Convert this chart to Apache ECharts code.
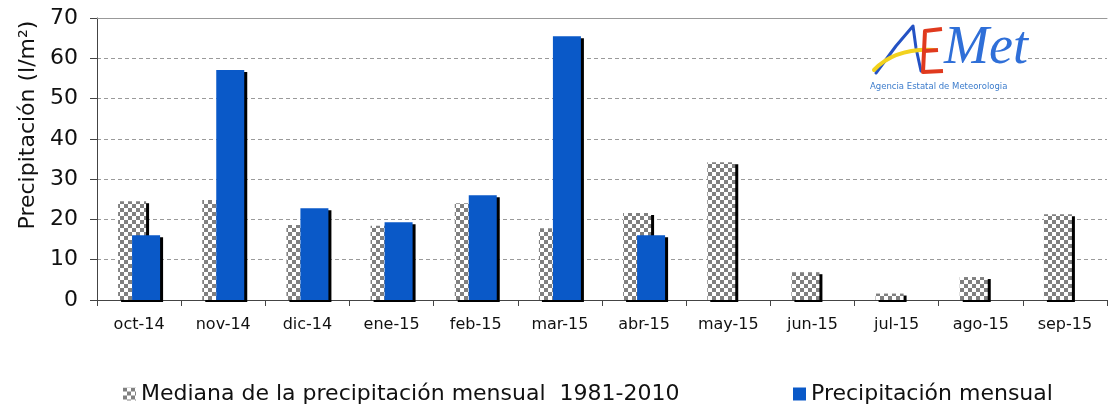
<!DOCTYPE html>
<html>
<head>
<meta charset="utf-8">
<script src="https://cdn.jsdelivr.net/npm/echarts@6/dist/echarts.min.js"></script>
<style>
  html, body { margin: 0; padding: 0; background: #fff; }
  #chart { width: 1109px; height: 406px; }
</style>
</head>
<body>
<div id="chart"></div>
<script>
// datos
const months = ['oct-14', 'nov-14', 'dic-14', 'ene-15', 'feb-15', 'mar-15', 'abr-15', 'may-15', 'jun-15', 'jul-15', 'ago-15', 'sep-15']
const medianValues = [24.5, 24.8, 18.6, 18.4, 24.0, 17.8, 21.6, 34.2, 6.9, 1.6, 5.7, 21.3]
const monthlyValues = [16.1, 57.1, 22.8, 19.3, 26.0, 65.5, 16.1, null, null, null, null, null]
const yTicks = [0, 10, 20, 30, 40, 50, 60, 70]

const medianName = 'Mediana de la precipitación mensual  1981-2010'
const monthlyName = 'Precipitación mensual'

// patrón ajedrezado
const makeChecker = () => {
  const c = document.createElement('canvas')
  c.width = 8
  c.height = 8
  const ctx = c.getContext('2d')
  ctx.fillStyle = '#ffffff'
  ctx.fillRect(0, 0, 8, 8)
  ctx.fillStyle = '#808080'
  ctx.fillRect(0, 0, 4, 4)
  ctx.fillRect(4, 4, 4, 4)
  return c
}
const checker = { image: makeChecker(), repeat: 'repeat' }

const chart = echarts.init(document.getElementById('chart'))
const font = '"DejaVu Sans", sans-serif'
const textColor = '#111'

const barShadow = {
  shadowColor: '#000',
  shadowBlur: 0,
  shadowOffsetX: 3,
  shadowOffsetY: 2
}

const option = {
  animation: false,
  textStyle: { fontFamily: font },
  grid: { left: 97, right: 2, top: 18, bottom: 106 },
  legend: [
    {
      data: [{ name: medianName, icon: 'rect' }],
      left: 118, top: 378,
      itemWidth: 13, itemHeight: 13, itemGap: 6,
      textStyle: { fontSize: 22, color: textColor, fontFamily: font },
      selectedMode: false
    },
    {
      data: [{ name: monthlyName, icon: 'rect' }],
      left: 788, top: 378,
      itemWidth: 13, itemHeight: 13,
      textStyle: { fontSize: 22, color: textColor, fontFamily: font },
      selectedMode: false
    }
  ],
  xAxis: [
    {
      type: 'category',
      data: months,
      axisLine: { lineStyle: { color: '#444', width: 1 } },
      axisTick: { show: true, length: 6, lineStyle: { color: '#444' } },
      axisLabel: { fontSize: 16, color: textColor, margin: 17, interval: 0 }
    },
    {
      type: 'category',
      data: months,
      position: 'top',
      axisLine: { lineStyle: { color: '#999', width: 1 } },
      axisTick: { show: false },
      axisLabel: { show: false }
    }
  ],
  yAxis: {
    type: 'value',
    min: yTicks[0],
    max: yTicks[yTicks.length - 1],
    interval: 10,
    name: 'Precipitación (l/m²)',
    nameLocation: 'middle',
    nameGap: 57,
    nameTextStyle: { fontSize: 22, color: textColor, padding: [0, 0, 0, 68] },
    axisLine: { show: true, lineStyle: { color: '#444' } },
    axisTick: { show: true, length: 7, lineStyle: { color: '#444' } },
    axisLabel: { fontSize: 22, color: textColor, margin: 19 },
    splitLine: {
      lineStyle: { color: '#9a9a9a', type: [4, 3], width: 1 }
    }
  },
  series: [
    {
      name: medianName,
      type: 'bar',
      data: medianValues,
      barWidth: 28,
      barGap: '-50%',
      itemStyle: Object.assign({ color: checker }, barShadow)
    },
    {
      name: monthlyName,
      type: 'bar',
      data: monthlyValues,
      barWidth: 28,
      itemStyle: Object.assign({ color: '#0a59c8' }, barShadow)
    }
  ],
  // logo AEMet
  graphic: [
    { type: 'rect', left: 873, top: 19, shape: { width: 152, height: 72 }, style: { fill: '#fff' }, z: 50 },
    {
      type: 'polyline', z: 51,
      shape: { points: [[876, 73], [896, 46], [913, 26], [916, 48], [921, 71]] },
      style: { stroke: '#2452c4', lineWidth: 3, fill: null, lineJoin: 'round', lineCap: 'round' }
    },
    {
      type: 'bezierCurve', z: 52,
      shape: { x1: 874, y1: 70, cpx1: 895, cpy1: 48, x2: 934, y2: 50 },
      style: { stroke: '#f2d21e', lineWidth: 4, fill: null, lineCap: 'round' }
    },
    {
      type: 'polyline', z: 53,
      shape: { points: [[942, 29], [925, 31], [923, 72], [943, 71]] },
      style: { stroke: '#e03a1e', lineWidth: 4, fill: null, lineJoin: 'round' }
    },
    {
      type: 'line', z: 53,
      shape: { x1: 924, y1: 51, x2: 938, y2: 50 },
      style: { stroke: '#e03a1e', lineWidth: 4 }
    },
    {
      type: 'text', left: 944, top: 22, z: 51,
      style: { text: 'Met', fontSize: 54, fontStyle: 'italic', fontFamily: '"Liberation Serif", serif', fill: '#2f6fd8' }
    },
    {
      type: 'text', left: 870, top: 82, z: 51,
      style: { text: 'Agencia Estatal de Meteorologia', fontSize: 8.5, fontFamily: font, fill: '#3c7ccc' }
    }
  ]
}

chart.setOption(option)
window.addEventListener('resize', () => chart.resize())
</script>
</body>
</html>
